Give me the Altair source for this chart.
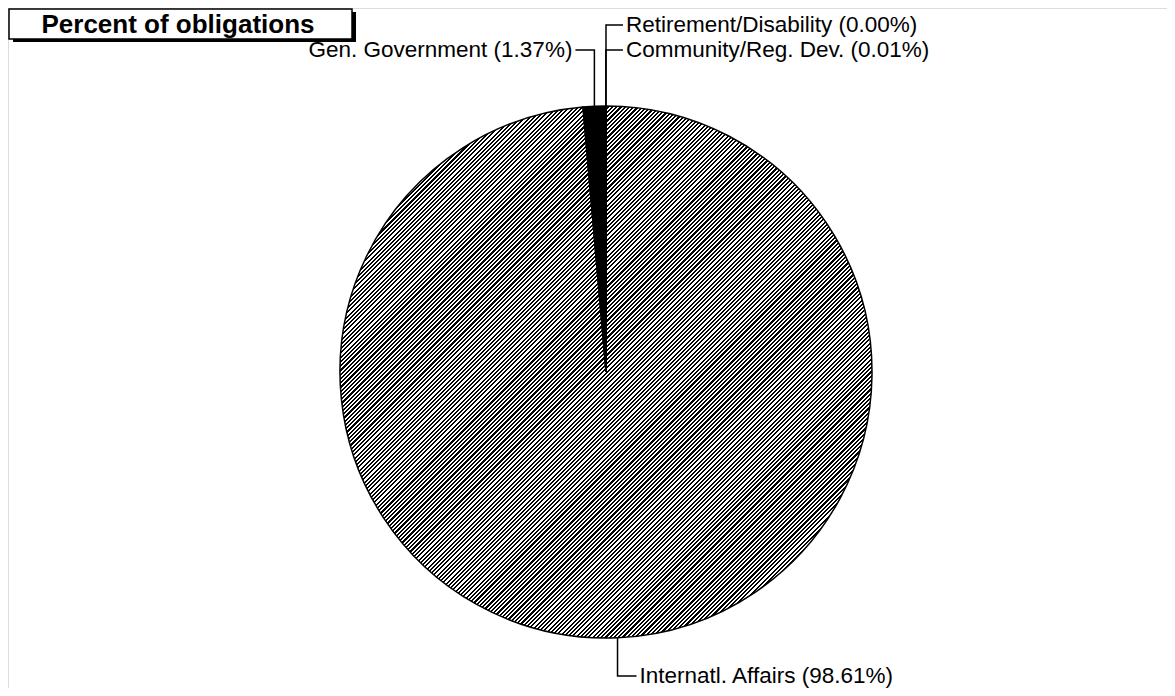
import altair as alt
import pandas as pd
import numpy as np

# ---- data ----
categories = ["Internatl. Affairs", "Gen. Government", "Community/Reg. Dev.", "Retirement/Disability"]
values = [98.61, 1.37, 0.01, 0.00]
labels = ["Internatl. Affairs (98.61%)", "Gen. Government (1.37%)",
          "Community/Reg. Dev. (0.01%)", "Retirement/Disability (0.00%)"]
title_text = "Percent of obligations"

# ---- layout (pixels) ----
W, H = 1159, 680
CX, CY = 598, 364          # pie centre in view pixels
R = 266                    # pie radius
FONT = "Liberation Sans"

# leader-line layout: label y offset from centre in px (up > 0), horizontal tick length
label_y_px = [-304, 322, 322, 347]
tick_px = [19, -19, 17, 17]

pie_df = pd.DataFrame({"idx": range(len(values)), "cat": categories, "value": values})

xs = alt.Scale(domain=[-CX / R, (W - CX) / R], nice=False, zero=False)
ys = alt.Scale(domain=[-(H - CY) / R, CY / R], nice=False, zero=False)

# hatch pattern as a hard-stop gradient
N = 250
stops = []
for k in range(N):
    stops += [
        {"offset": k / N, "color": "black"},
        {"offset": (k + 0.5) / N, "color": "black"},
        {"offset": (k + 0.5) / N, "color": "white"},
        {"offset": (k + 1) / N, "color": "white"},
    ]
hatch = {"gradient": "linear", "x1": 0, "y1": 0, "x2": 1, "y2": 1, "stops": stops}

pie = alt.Chart(pie_df).mark_arc(radius=R, stroke="black", strokeWidth=1.5).encode(
    x=alt.X(datum=0, type="quantitative", scale=xs, axis=None),
    y=alt.Y(datum=0, type="quantitative", scale=ys, axis=None),
    theta=alt.Theta("value:Q", stack=True, scale=alt.Scale(range=[0, 2 * np.pi])),
    order=alt.Order("idx:Q", sort="ascending"),
    fill=alt.condition("datum.idx == 0", alt.value(hatch), alt.value("black")),
)

# leader lines computed from slice mid-angles
vals = np.array(values, dtype=float)
total = vals.sum()
before = np.concatenate([[0], np.cumsum(vals)[:-1]])
mid = 2 * np.pi * (before + vals / 2) / total
rows = []
text_rows = []
for i, (a, lab) in enumerate(zip(mid, labels)):
    sx, sy = np.sin(a), np.cos(a)
    ly = label_y_px[i] / R
    ex = sx + tick_px[i] / R
    for j, (px, py) in enumerate([(sx, sy), (sx, ly), (ex, ly)]):
        rows.append({"lab": lab, "o": j, "x": px, "y": py})
    text_rows.append({"lab": lab, "x": ex + np.sign(tick_px[i]) * 3 / R, "y": ly,
                      "side": "right" if tick_px[i] < 0 else "left"})
lines_df = pd.DataFrame(rows)
text_df = pd.DataFrame(text_rows)

leaders = alt.Chart(lines_df).mark_line(color="black", strokeWidth=1.5).encode(
    x=alt.X("x:Q", scale=xs, axis=None),
    y=alt.Y("y:Q", scale=ys, axis=None),
    detail="lab:N",
    order="o:Q",
)

txt_left = alt.Chart(text_df).transform_filter("datum.side == 'left'").mark_text(
    align="left", baseline="middle", font=FONT, fontSize=22.5, color="black"
).encode(x=alt.X("x:Q", scale=xs, axis=None), y=alt.Y("y:Q", scale=ys, axis=None), text="lab:N")

txt_right = alt.Chart(text_df).transform_filter("datum.side == 'right'").mark_text(
    align="right", baseline="middle", font=FONT, fontSize=22.5, color="black"
).encode(x=alt.X("x:Q", scale=xs, axis=None), y=alt.Y("y:Q", scale=ys, axis=None), text="lab:N")

# title box
tdf = pd.DataFrame({"t": [title_text]})
shadow = alt.Chart(tdf).mark_rect(color="black").encode(
    x=alt.value(5), x2=alt.value(348), y=alt.value(4), y2=alt.value(34))
box = alt.Chart(tdf).mark_rect(fill="white", stroke="black", strokeWidth=1.5).encode(
    x=alt.value(1), x2=alt.value(344), y=alt.value(1), y2=alt.value(31))
ttext = alt.Chart(tdf).mark_text(
    align="center", baseline="alphabetic", font=FONT, fontSize=26, fontWeight="bold", color="black"
).encode(x=alt.value(170), y=alt.value(24.5), text="t:N")

chart = alt.layer(shadow, box, ttext, pie, leaders, txt_left, txt_right).properties(
    width=W, height=H, padding=0, autosize=alt.AutoSizeParams(type="none")
).configure_view(stroke="white", strokeWidth=0).configure(background="white")

chart.save("out.html", embed_options={"renderer": "svg", "actions": False})
